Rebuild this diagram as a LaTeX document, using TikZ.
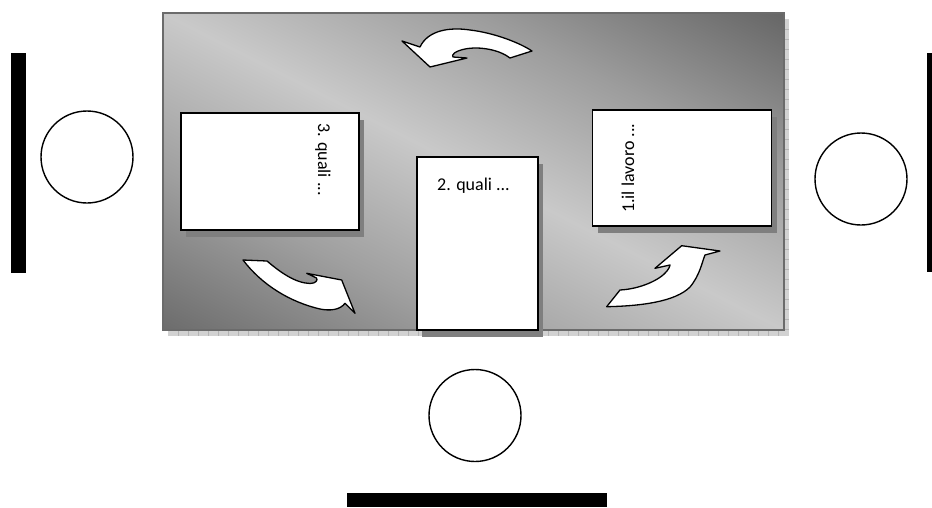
\documentclass[tikz,border=0pt]{standalone}
\usepackage{fontspec}
\setmainfont{Carlito}
\usetikzlibrary{shadows}
\definecolor{frameedge}{HTML}{6B6B6B}
\definecolor{darkgrad}{HTML}{666666}
\definecolor{darkgradb}{HTML}{6C6C6C}
\definecolor{lightgrad}{HTML}{C9C9C9}
\definecolor{stripfill}{HTML}{D2D2D2}
\definecolor{stripline}{HTML}{B4B4B4}
\definecolor{boxshadow}{HTML}{7F7F7F}
\pgfdeclareverticalshading{framegrad}{100bp}{color(0bp)=(darkgradb); color(25bp)=(darkgradb); color(37.5bp)=(darkgradb!45!lightgrad); color(50bp)=(lightgrad); color(62.5bp)=(darkgrad!45!lightgrad); color(75bp)=(darkgrad); color(100bp)=(darkgrad)}
\tikzset{
  paper/.style={draw=black, line width=1.6pt, fill=white, rectangle, inner sep=0pt,
    drop shadow={shadow xshift=5pt, shadow yshift=-7pt, fill=boxshadow, opacity=1}},
  label/.style={inner sep=0pt, font=\fontsize{18}{21}\selectfont},
  ring/.style={draw=black, line width=1.4pt, fill=white, circle, inner sep=0pt, minimum size=92pt},
  bar/.style={fill=black},
  turn/.style={draw=black, line width=1.3pt, fill=white, line join=round},
}
\begin{document}
\begin{tikzpicture}[x=1pt,y=-1pt]
\useasboundingbox (0,0) rectangle (932,507);
% shadow strips of the frame
\fill[stripfill] (784,19) rectangle (789,336);
\fill[stripfill] (168,330) rectangle (789,336);
\foreach \yy in {29,39,...,329} \draw[stripline, line width=0.5pt] (784,\yy) -- (789,\yy);
\foreach \xx in {178,188,...,778} \draw[stripline, line width=0.5pt] (\xx,330) -- (\xx,336);
% frame with gradient
\begin{scope}
  \clip (163,13) rectangle (784,330);
  \begin{scope}[transform canvas={shift={(473.5,171.5)}, rotate=-27}]
    \shade[shading=framegrad] (-420,-282) rectangle (420,282);
  \end{scope}
\end{scope}
\draw[frameedge, line width=2pt] (163,13) rectangle (784,330);
% curved arrows
\draw[turn] (402,41) -- (420,47) .. controls (428,30) and (450,27) .. (470,30)
  .. controls (495,33) and (520,43) .. (532,51) -- (510,58)
  .. controls (500,50) and (480,46) .. (465,49)
  .. controls (455,51) and (451,55) .. (453,57) -- (467,58) -- (430,67) -- cycle;
\draw[turn] (243,260) -- (267,261) .. controls (280,272) and (295,283) .. (310,283.5)
  .. controls (316,283.5) and (318,280) .. (316.5,278) -- (306.7,273.3) -- (341.7,280)
  -- (355,313.3) -- (345,303.3) .. controls (340,310) and (330,311) .. (320,309)
  .. controls (290,302) and (262,285) .. cycle;
\draw[turn] (606.7,306.7) -- (620,290) .. controls (640,289) and (660,280) .. (667,271)
  .. controls (670,267) and (670,265) .. (670,265) -- (655,268.3) -- (681.7,245.7)
  -- (720,251) -- (705,255) .. controls (702,262) and (700,275) .. (690,287)
  .. controls (675,302) and (640,306) .. cycle;
% pages
\node[paper, minimum width=178pt, minimum height=117pt] (p3) at (270,171.5) {};
\node[paper, minimum width=121pt, minimum height=173pt] (p2) at (477.5,243.5) {};
\node[paper, minimum width=179pt, minimum height=116pt] (p1) at (682,168) {};
\node[label, rotate=-90, anchor=base west] (t3) at (318,123) {3. quali ...};
\node[label, anchor=base west] (t2) at (437,190) {2. quali ...};
\node[label, rotate=90, anchor=base west] (t1) at (634,213) {1.il lavoro ...};
% circles
\node[ring] (c1) at (87,157) {};
\node[ring] (c2) at (861,179) {};
\node[ring] (c3) at (475,415.5) {};
% bars
\fill[bar] (11,53) rectangle (26,273);
\fill[bar] (927,53) rectangle (932,272);
\fill[bar] (347,493) rectangle (607,507);
\end{tikzpicture}
\end{document}
